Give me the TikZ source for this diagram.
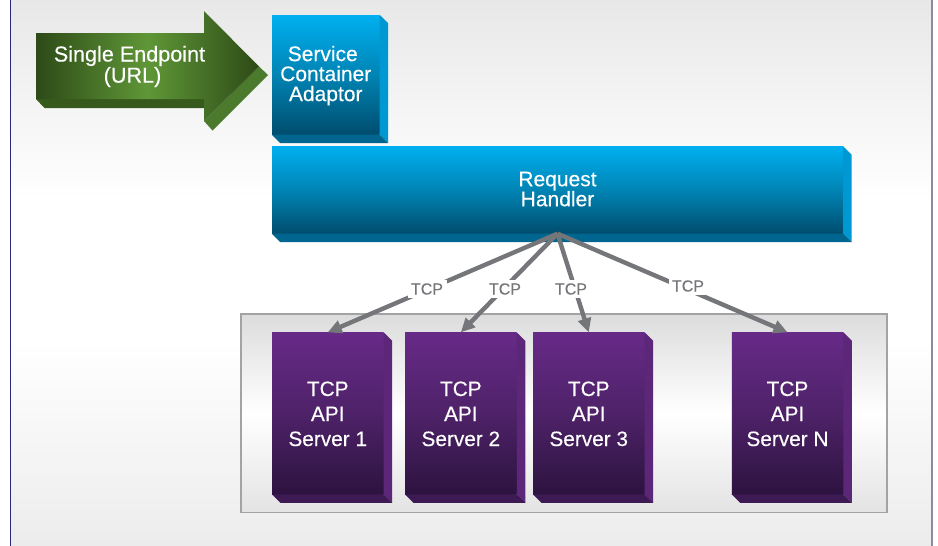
\documentclass[tikz,border=0pt]{standalone}
\usepackage{fontspec}
\setmainfont{Liberation Sans}
\newfontfamily\diagfont{Liberation Sans}[RawFeature={embolden=0.25}]
\usetikzlibrary{arrows.meta}
\definecolor{bgtop}{HTML}{E8E8E8}
\definecolor{bgbot}{HTML}{ECECEC}
\definecolor{arrdark}{HTML}{2D4A17}
\definecolor{arrmid}{HTML}{5F9737}
\definecolor{arrside}{HTML}{4C7A2C}
\definecolor{arrbot}{HTML}{37591C}
\definecolor{bluetop}{HTML}{00B0F0}
\definecolor{bluemid}{HTML}{0084B4}
\definecolor{bluebot}{HTML}{004D6E}
\definecolor{blueside}{HTML}{0098D2}
\definecolor{bluelow}{HTML}{00668F}
\definecolor{purptop}{HTML}{672A88}
\definecolor{purpmid}{HTML}{4E2268}
\definecolor{purpbot}{HTML}{2D1340}
\definecolor{purpside}{HTML}{5C2778}
\definecolor{purplow}{HTML}{3E1A55}
\definecolor{conn}{HTML}{75767A}
\definecolor{panelc}{HTML}{DCDCDC}
\definecolor{panelb}{HTML}{A3A3A3}
\definecolor{leftline}{HTML}{2A2A78}
\definecolor{rightline}{HTML}{8A8AA8}
\newcommand{\solidfaces}[3]{%
  \fill[#2] (#1.north east) -- ([shift={(8.5,8.5)}]#1.north east) -- ([shift={(8.5,8.5)}]#1.south east) -- (#1.south east) -- cycle;
  \fill[#3] (#1.south west) -- ([shift={(8.5,8.5)}]#1.south west) -- ([shift={(8.5,8.5)}]#1.south east) -- (#1.south east) -- cycle;
}
\newcommand{\lowerone}{\rule{0pt}{17pt}}
\newcommand{\lowersrv}{\rule{0pt}{15.6pt}}
\newcommand{\raiseone}{\rule[-2pt]{0pt}{2pt}}
\tikzset{
  bluebox/.style={inner sep=0pt,top color=bluetop,bottom color=bluebot,middle color=bluemid,text=white,align=center,
    font=\diagfont\fontsize{21}{20}\selectfont},
  purplebox/.style={inner sep=0pt,minimum width=111.5pt,minimum height=161.5pt,top color=purptop,bottom color=purpbot,middle color=purpmid,text=white,align=center,
    font=\diagfont\fontsize{20.8}{25}\selectfont},
  link/.style={draw=conn,line width=4.4pt,-{Triangle[length=14pt,width=13pt]}},
  tcplabel/.style={fill=white,text=conn,inner xsep=3.5pt,inner ysep=3pt,font=\diagfont\fontsize{16}{16}\selectfont},
  arrowtext/.style={text=white,align=center,font=\diagfont\fontsize{21.6}{20}\selectfont}
}
\begin{document}
\begin{tikzpicture}[x=1pt,y=-1pt]
\useasboundingbox (0,0) rectangle (938,546);
% page background
\fill[white] (0,0) rectangle (938,546);
\shade[top color=bgtop,bottom color=white] (10.5,0) rectangle (932,200);
\fill[white] (10.5,199.5) rectangle (932,340.5);
\shade[top color=white,bottom color=bgbot] (10.5,340) rectangle (932,546);
\draw[draw=leftline,line width=1.2pt] (10.5,0) -- (10.5,546);
\draw[draw=rightline,line width=1.5pt] (932,0) -- (932,546);
% big arrow
\fill[arrbot] (36,99) -- (44.5,108) -- (205,108) -- (205,99) -- cycle;
\fill[arrside] (259,66.5) -- (268,75) -- (212.5,130.5) -- (204,121) -- cycle;
\shade[left color=arrdark,right color=arrdark,middle color=arrmid] (36,33) -- (204,33) -- (204,11) -- (259,66.5) -- (204,121) -- (204,99) -- (36,99) -- cycle;
\node[arrowtext] (endpoint) at (129.5,66.5) {Single Endpoint\\\hspace*{6pt}(URL)};
% blue boxes
\node[bluebox,minimum width=107.5pt,minimum height=119.5pt] (adaptor) at (325.75,74.75) {\lowerone Service\hbox to 6pt{}\\Container\\Adaptor};
\solidfaces{adaptor}{blueside}{bluelow}
\node[bluebox,minimum width=571pt,minimum height=87pt] (handler) at (557.5,190) {Request\\Handler\raiseone};
\solidfaces{handler}{blueside}{bluelow}
% panel
\shade[top color=panelc,bottom color=panelc!80!white,middle color=white,draw=panelb,line width=1.2pt] (241,314) rectangle (887,512.7);
% servers
\node[purplebox] (s1) at (327.75,413.3) {\lowersrv TCP\\API\\Server 1};
\solidfaces{s1}{purpside}{purplow}
\node[purplebox] (s2) at (460.85,413.3) {\lowersrv TCP\\API\\Server 2};
\solidfaces{s2}{purpside}{purplow}
\node[purplebox] (s3) at (588.75,413.3) {\lowersrv TCP\\API\\Server 3};
\solidfaces{s3}{purpside}{purplow}
\node[purplebox] (sn) at (787.5,413.3) {\lowersrv TCP\\API\\Server N};
\solidfaces{sn}{purpside}{purplow}
% connectors
\draw[link] (handler.south) -- (s1.north);
\draw[link] (handler.south) -- (s2.north);
\draw[link] (handler.south) -- (s3.north);
\draw[link] (handler.south) -- (sn.north);
\node[tcplabel] (t1) at (427,289) {TCP};
\node[tcplabel] (t2) at (505,289) {TCP};
\node[tcplabel] (t3) at (571,289) {TCP};
\node[tcplabel] (tn) at (688,286) {TCP};
\end{tikzpicture}
\end{document}
